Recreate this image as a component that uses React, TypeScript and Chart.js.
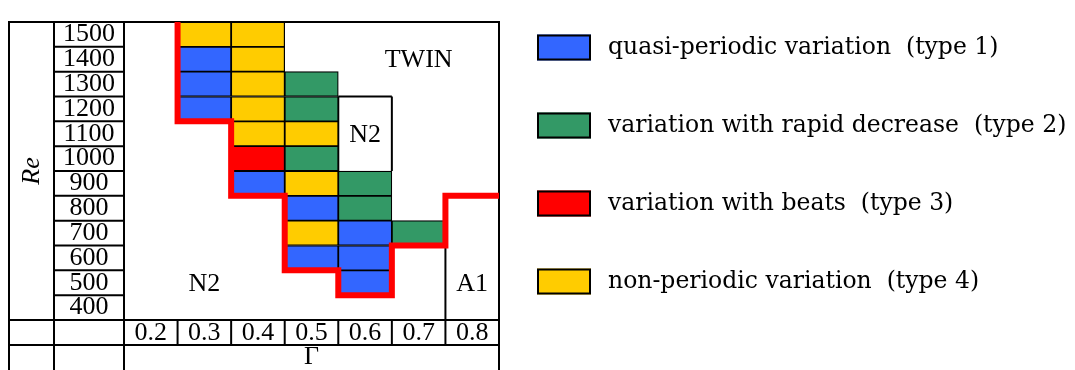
import React, { useEffect, useRef } from 'react';
import { Chart, registerables } from 'chart.js';

Chart.register(...registerables);

// Γ columns and Re rows of the regime table
const gammaLabels = ['0.2', '0.3', '0.4', '0.5', '0.6', '0.7', '0.8'];
const reTicks = [400, 500, 600, 700, 800, 900, 1000, 1100, 1200, 1300, 1400, 1500];

// Cells of each variation type: column (Γ) and row (Re)
const type1Gamma = ['0.3', '0.3', '0.3', '0.4', '0.5', '0.5', '0.6', '0.6', '0.6'];
const type1Re = [1400, 1300, 1200, 900, 800, 600, 700, 600, 500];
const type2Gamma = ['0.5', '0.5', '0.5', '0.6', '0.6', '0.7'];
const type2Re = [1300, 1200, 1000, 900, 800, 700];
const type3Gamma = ['0.4'];
const type3Re = [1000];
const type4Gamma = ['0.3', '0.4', '0.4', '0.4', '0.4', '0.4', '0.5', '0.5', '0.5'];
const type4Re = [1500, 1500, 1400, 1300, 1200, 1100, 1100, 900, 700];

const typeLabels = [
  'quasi-periodic variation  (type 1)',
  'variation with rapid decrease  (type 2)',
  'variation with beats  (type 3)',
  'non-periodic variation  (type 4)',
];
const typeColors = ['#3366ff', '#339966', '#ff0000', '#ffcc00'];

// Stability boundary (stepped), in Γ / Re units along cell edges
const boundaryGamma = [0.25, 0.25, 0.35, 0.35, 0.45, 0.45, 0.55, 0.55, 0.65, 0.65, 0.75, 0.75, 0.85];
const boundaryRe = [1550, 1150, 1150, 850, 850, 550, 550, 450, 450, 650, 650, 850, 850];

// Region names
const regionLabels = ['TWIN', 'N2', 'N2', 'A1'];
const regionGamma = [0.70, 0.60, 0.30, 0.80];
const regionRe = [1395, 1095, 495, 495];

// Region outline segments (Γ pairs, Re pairs)
const outlineGamma = [[0.55, 0.65], [0.65, 0.65], [0.55, 0.55], [0.75, 0.75]];
const outlineRe = [[1250, 1250], [1250, 950], [1250, 950], [650, 350]];

const RE_HALF = 50;
const SERIF = 'Liberation Serif';
const LEGEND_FONT = '23.5px "DejaVu Serif"';

const cells = (g: string[], r: number[]) =>
  g.map((gv, i) => ({ x: gv, y: [r[i] - RE_HALF, r[i] + RE_HALF] }));

const tablePlugin = {
  id: 'regimeTable',
  beforeDatasetsDraw(chart: any) {
    const { ctx, chartArea, scales } = chart;
    const y = scales.y;
    const xb = scales.xb;
    const left0 = 9;
    const left1 = 54;
    const left2 = chartArea.left;
    const right = chartArea.right;
    const top = chartArea.top;
    const bottom = chartArea.bottom;
    const tickRowBottom = bottom + 25;
    const h = chart.height;

    ctx.save();
    ctx.strokeStyle = '#000';
    ctx.lineWidth = 2;
    const line = (x1: number, y1: number, x2: number, y2: number) => {
      ctx.beginPath();
      ctx.moveTo(x1, y1);
      ctx.lineTo(x2, y2);
      ctx.stroke();
    };
    // outer columns
    [left0, left1, left2, right].forEach((xx) => line(xx, top - 1, xx, h));
    line(left0 - 1, top, right + 1, top);
    line(left0 - 1, bottom, right + 1, bottom);
    line(left0 - 1, tickRowBottom, right + 1, tickRowBottom);
    // Re row separators in the label column
    reTicks.forEach((v) => {
      const yy = y.getPixelForValue(v - RE_HALF);
      line(left1, yy, left2, yy);
    });
    // Γ column separators in the tick row
    gammaLabels.forEach((_, i) => {
      if (i === 0) return;
      const xx = xb.getPixelForValue(0.15 + i * 0.1);
      line(xx, bottom, xx, tickRowBottom);
    });
    // region outlines
    outlineGamma.forEach((g, i) => {
      line(
        xb.getPixelForValue(g[0]), y.getPixelForValue(outlineRe[i][0]),
        xb.getPixelForValue(g[1]), y.getPixelForValue(outlineRe[i][1])
      );
    });
    ctx.restore();
  },
  afterDatasetsDraw(chart: any) {
    const { ctx, scales } = chart;
    ctx.save();
    ctx.fillStyle = '#000';
    ctx.font = `26px "${SERIF}"`;
    ctx.textAlign = 'center';
    ctx.textBaseline = 'middle';
    regionLabels.forEach((t, i) => {
      ctx.fillText(t, scales.xb.getPixelForValue(regionGamma[i]), scales.y.getPixelForValue(regionRe[i]));
    });
    ctx.restore();
  },
  afterDraw(chart: any) {
    const { ctx } = chart;
    const items = chart.data.datasets.filter((d: any) => d.type !== 'line');
    const boxX = 537;
    const boxW = 54;
    const boxH = 26;
    const textX = 608;
    const firstY = 47.5;
    const gap = 78;
    ctx.save();
    items.forEach((d: any, i: number) => {
      const cy = firstY + i * gap;
      ctx.fillStyle = d.backgroundColor;
      ctx.fillRect(boxX, cy - boxH / 2, boxW, boxH);
      ctx.strokeStyle = '#000';
      ctx.lineWidth = 2;
      ctx.strokeRect(boxX + 1, cy - boxH / 2 + 1, boxW - 2, boxH - 2);
      ctx.fillStyle = '#000';
      ctx.font = LEGEND_FONT;
      ctx.textAlign = 'left';
      ctx.textBaseline = 'middle';
      ctx.fillText(d.label, textX, cy);
    });
    ctx.restore();
  },
};

export default function App() {
  const ref = useRef<HTMLCanvasElement>(null);

  useEffect(() => {
    const font = { family: SERIF, size: 26, lineHeight: 1 };
    const barCommon = {
      type: 'bar' as const,
      grouped: false,
      barPercentage: 1,
      categoryPercentage: 1,
      borderColor: '#000',
      borderWidth: 1.25,
      borderSkipped: false,
      order: 1,
    };
    const chart = new Chart(ref.current as HTMLCanvasElement, {
      type: 'bar',
      data: {
        labels: gammaLabels,
        datasets: [
          { ...barCommon, label: typeLabels[0], backgroundColor: typeColors[0], data: cells(type1Gamma, type1Re) },
          { ...barCommon, label: typeLabels[1], backgroundColor: typeColors[1], data: cells(type2Gamma, type2Re) },
          { ...barCommon, label: typeLabels[2], backgroundColor: typeColors[2], data: cells(type3Gamma, type3Re) },
          { ...barCommon, label: typeLabels[3], backgroundColor: typeColors[3], data: cells(type4Gamma, type4Re) },
          {
            type: 'line',
            label: 'boundary',
            xAxisID: 'xb',
            data: boundaryGamma.map((g, i) => ({ x: g, y: boundaryRe[i] })),
            borderColor: '#ff0000',
            borderWidth: 6,
            borderJoinStyle: 'miter',
            pointRadius: 0,
            fill: false,
            tension: 0,
            clip: false,
            order: 0,
          },
        ] as any,
      },
      options: {
        responsive: false,
        animation: false,
        events: [],
        layout: { padding: { left: 9, top: 9, right: 576, bottom: 0 } },
        plugins: { legend: { display: false }, tooltip: { enabled: false } },
        scales: {
          x: {
            type: 'category',
            offset: true,
            grid: { display: false, drawTicks: false },
            border: { display: false },
            ticks: { font, color: '#000', padding: 0, autoSkip: false, maxRotation: 0 },
            title: { display: true, text: 'Γ', font, color: '#000', padding: 0 },
            afterFit: (s: any) => { s.height = 50; },
          },
          xb: { type: 'linear', min: 0.15, max: 0.85, offset: false, display: false },
          y: {
            type: 'linear',
            min: 350,
            max: 1550,
            grid: { display: false, drawTicks: false },
            border: { display: false },
            ticks: {
              font,
              color: '#000',
              padding: 9,
              crossAlign: 'center',
              autoSkip: false,
              callback: (v: any) => String(v),
            },
            afterBuildTicks: (s: any) => { s.ticks = reTicks.map((v) => ({ value: v })); },
            title: {
              display: true,
              text: 'Re',
              font: { ...font, style: 'italic' },
              color: '#000',
              padding: { top: 10, bottom: 0 },
            },
            afterFit: (s: any) => { s.width = 115; },
          },
        },
      } as any,
      plugins: [tablePlugin],
    });
    return () => chart.destroy();
  }, []);

  return (
    <div style={{ position: 'absolute', left: 0, top: 0, width: 1075, height: 370, background: '#fff' }}>
      <canvas ref={ref} width={1075} height={370} style={{ display: 'block' }} />
    </div>
  );
}
